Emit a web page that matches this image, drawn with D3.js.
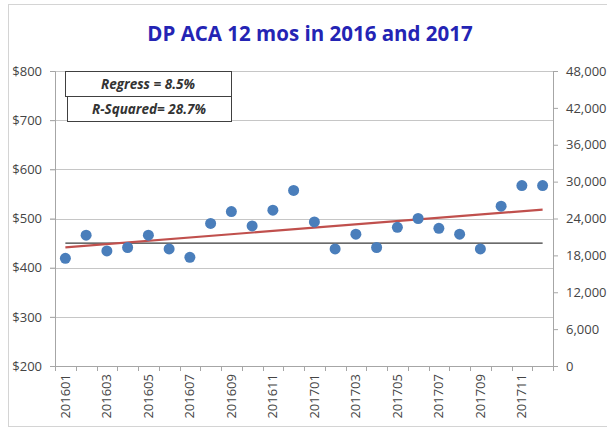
<!DOCTYPE html>
<html>
<head>
<meta charset="utf-8">
<script src="https://cdn.jsdelivr.net/npm/d3@7"></script>
<style>
  body { margin: 0; background: #fff; }
  text { font-family: "Open Sans", "Liberation Sans", sans-serif; }
</style>
</head>
<body>
<div id="chart"></div>
<script>
// Data
var months = ['201601', '201602', '201603', '201604', '201605', '201606',
  '201607', '201608', '201609', '201610', '201611', '201612',
  '201701', '201702', '201703', '201704', '201705', '201706',
  '201707', '201708', '201709', '201710', '201711', '201712'];
var aca = [419, 466, 434, 441, 466, 438, 421, 490, 514, 485, 517, 557,
  493, 438, 468, 441, 482, 500, 480, 468, 438, 525, 567, 567];
var baseline = 450;
var leftTicks = [200, 300, 400, 500, 600, 700, 800];
var rightTicks = [0, 6000, 12000, 18000, 24000, 30000, 36000, 42000, 48000];
var title = 'DP ACA 12 mos in 2016 and 2017';
var notes = ['Regress = 8.5%', 'R-Squared= 28.7%'];

var chart_width = 607;
var chart_height = 428;
var margin = { top: 71, right: 54, bottom: 62, left: 55 };
var plot_w = chart_width - margin.left - margin.right;
var plot_h = chart_height - margin.top - margin.bottom;

var svg = d3.select('#chart')
  .append('svg')
  .attr('width', chart_width)
  .attr('height', chart_height);

// outer chart border
svg.append('rect')
  .attr('x', 8.5).attr('y', 4.5)
  .attr('width', 610).attr('height', 422)
  .attr('fill', 'none')
  .attr('stroke', '#d4d4d4');

svg.append('text')
  .attr('x', 310).attr('y', 41)
  .attr('text-anchor', 'middle')
  .attr('font-size', 20.5)
  .attr('font-weight', 700)
  .attr('fill', '#2424b4')
  .text(title);

var g = svg.append('g')
  .attr('transform', 'translate(' + margin.left + ',' + margin.top + ')');

// Scales
var xScale = d3.scaleBand()
  .domain(months)
  .range([0, plot_w]);

var yScale = d3.scaleLinear()
  .domain([200, 800])
  .range([plot_h, 0]);

var y2Scale = d3.scaleLinear()
  .domain([0, 48000])
  .range([plot_h, 0]);

var cx = function (d, i) { return xScale(months[i]) + xScale.bandwidth() / 2; };

// gridlines
g.selectAll('.grid')
  .data(leftTicks.slice(1))
  .enter()
  .append('line')
  .attr('x1', -5).attr('x2', plot_w)
  .attr('y1', d => Math.round(yScale(d)) + 0.5)
  .attr('y2', d => Math.round(yScale(d)) + 0.5)
  .attr('stroke', '#c6c6c6');

// Left axis
var yAxis = g.append('g')
  .call(d3.axisLeft(yScale).tickValues(leftTicks).tickFormat(d => '$' + d).tickSize(5).tickPadding(8));

// Right axis
var y2Axis = g.append('g')
  .attr('transform', 'translate(' + plot_w + ',0)')
  .call(d3.axisRight(y2Scale).tickValues(rightTicks).tickFormat(d3.format(',')).tickSize(5).tickPadding(8));

// X axis, ticks at category boundaries
var xAxis = g.append('g')
  .attr('transform', 'translate(0,' + plot_h + ')')
  .call(d3.axisBottom(xScale).tickSize(0).tickPadding(0)
    .tickFormat((d, i) => i % 2 === 0 ? d : ''));

xAxis.selectAll('.tick text')
  .attr('transform', 'rotate(-90)')
  .attr('text-anchor', 'end')
  .attr('dx', '-8')
  .attr('dy', '0.35em')
  .attr('y', 0);

xAxis.selectAll('.bound')
  .data(d3.range(months.length + 1))
  .enter()
  .append('line')
  .attr('x1', i => Math.round(i * xScale.step()) + 0.5)
  .attr('x2', i => Math.round(i * xScale.step()) + 0.5)
  .attr('y1', 0).attr('y2', 5)
  .attr('stroke', '#a6a6a6');

[yAxis, y2Axis, xAxis].forEach(function (ax) {
  ax.selectAll('.domain').attr('stroke', '#a6a6a6');
  ax.selectAll('.tick line').attr('stroke', '#a6a6a6');
  ax.selectAll('.tick text')
    .attr('fill', '#444')
    .attr('font-size', 13)
    .attr('font-family', '"Liberation Sans", sans-serif');
});

// baseline
g.append('line')
  .attr('x1', cx(null, 0)).attr('x2', cx(null, months.length - 1))
  .attr('y1', yScale(baseline)).attr('y2', yScale(baseline))
  .attr('stroke', '#3a3a3a')
  .attr('stroke-width', 1.3);

// regression line from the data
var n = aca.length;
var mx = (n - 1) / 2;
var my = d3.mean(aca);
var sxy = d3.sum(aca, (v, i) => (i - mx) * (v - my));
var sxx = d3.sum(aca, (v, i) => (i - mx) * (i - mx));
var slope = sxy / sxx;
var icpt = my - slope * mx;

g.append('line')
  .attr('x1', cx(null, 0)).attr('x2', cx(null, n - 1))
  .attr('y1', yScale(icpt)).attr('y2', yScale(icpt + slope * (n - 1)))
  .attr('stroke', '#c0504d')
  .attr('stroke-width', 2.2);

// points
g.selectAll('circle')
  .data(aca)
  .enter()
  .append('circle')
  .attr('cx', cx)
  .attr('cy', d => yScale(d))
  .attr('r', 5.5)
  .attr('fill', '#4a7ebb');

// note boxes
var boxes = svg.selectAll('.note')
  .data(notes)
  .enter()
  .append('g')
  .attr('transform', (d, i) => 'translate(' + (65 + i * 2) + ',' + (71 + i * 25) + ')');

boxes.append('rect')
  .attr('x', 0.5).attr('y', 0.5)
  .attr('width', (d, i) => 166 - i * 2).attr('height', 25)
  .attr('fill', '#fff')
  .attr('stroke', '#404040');

boxes.append('text')
  .attr('x', (d, i) => 83 - i)
  .attr('y', 17.5)
  .attr('text-anchor', 'middle')
  .attr('font-size', 13.5)
  .attr('font-weight', 700)
  .attr('font-style', 'italic')
  .attr('fill', '#333')
  .text(d => d);
</script>
</body>
</html>
